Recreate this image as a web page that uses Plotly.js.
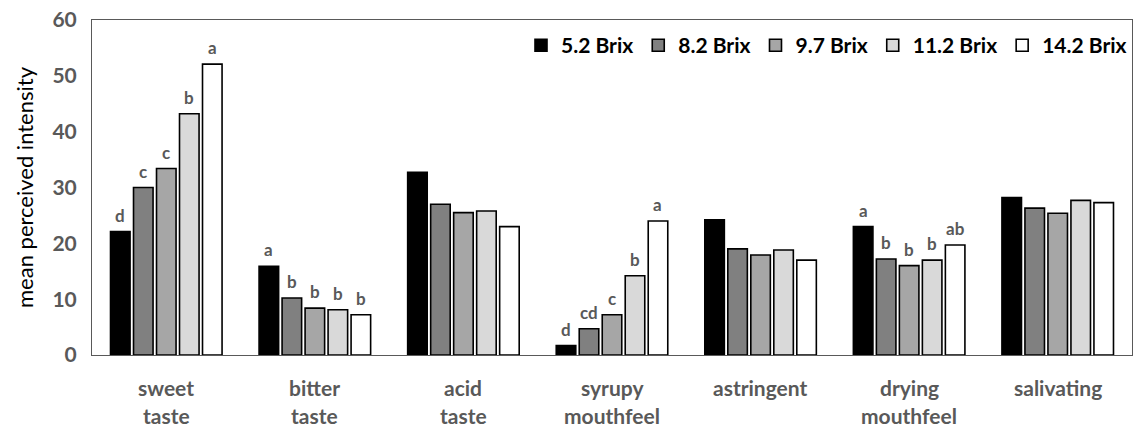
<!DOCTYPE html>
<html><head><meta charset="utf-8">
<script src="https://cdn.plot.ly/plotly-3.0.1.min.js"></script>
<style>html,body{margin:0;padding:0;background:#fff}#chart{width:1137px;height:438px}</style>
</head><body><div id="chart"></div>
<script>
const categories = ["sweet\ntaste","bitter\ntaste","acid\ntaste","syrupy\nmouthfeel","astringent","drying\nmouthfeel","salivating"];
const seriesNames = ["5.2 Brix","8.2 Brix","9.7 Brix","11.2 Brix","14.2 Brix"];
const seriesColors = ["#000000","#808080","#a6a6a6","#d9d9d9","#ffffff"];
const brix52  = [22.1, 15.9, 32.7, 1.7, 24.2, 23.0, 28.2];
const brix82  = [30.0, 10.2, 27.0, 4.7, 19.0, 17.2, 26.3];
const brix97  = [33.4,  8.4, 25.5, 7.2, 17.9, 16.0, 25.4];
const brix112 = [43.2,  8.1, 25.8, 14.2, 18.8, 17.0, 27.7];
const brix142 = [52.1,  7.2, 23.0, 24.0, 17.0, 19.7, 27.3];
const letters52  = ["d","a","","d","","a",""];
const letters82  = ["c","b","","cd","","b",""];
const letters97  = ["c","b","","c","","b",""];
const letters112 = ["b","b","","b","","b",""];
const letters142 = ["a","b","","a","","ab",""];
const yTicks = [0,10,20,30,40,50,60];

const values = [brix52,brix82,brix97,brix112,brix142];
const letters = [letters52,letters82,letters97,letters112,letters142];

const W = 1137, H = 438;
const margin = {l:92, r:5, t:20, b:83};
const bargap = 0.226;
const plotW = W - margin.l - margin.r;
const catW = plotW / categories.length;
const slot = catW * (1 - bargap) / seriesNames.length;

const traces = seriesNames.map((name, i) => ({
  type: 'bar', name: name, x: categories.map((c, k) => k), y: values[i],
  marker: {color: seriesColors[i], line: {color: '#000', width: 1.6}},
  hoverinfo: 'skip'
}));

const annotations = [];
letters.forEach((arr, i) => {
  arr.forEach((t, k) => {
    if (!t) return;
    annotations.push({x: k, y: values[i][k], xref: 'x', yref: 'y', text: t, showarrow: false,
      yanchor: 'bottom', xanchor: 'center', xshift: (i - 2) * slot, yshift: 4,
      font: {family: 'Lato, sans-serif', size: 17, color: '#595959', weight: 'bold'}});
  });
});
categories.forEach((c, k) => {
  c.split('\n').forEach((line, j) => {
    annotations.push({x: k, y: 0, xref: 'x', yref: 'paper', text: line, showarrow: false,
      yanchor: 'middle', xanchor: 'center', yshift: -32 - 28 * j,
      font: {family: 'Lato, sans-serif', size: 21, color: '#595959', weight: 'bold'}});
  });
});

const layout = {
  width: W, height: H, margin: margin,
  paper_bgcolor: '#fff', plot_bgcolor: '#fff',
  barmode: 'group', bargap: bargap, bargroupgap: 0.15,
  showlegend: true,
  legend: {orientation: 'h', x: 1, xanchor: 'right', y: 0.985, yanchor: 'top',
    bgcolor: 'rgba(0,0,0,0)', font: {family: 'Lato, sans-serif', size: 21, color: '#000', weight: 'bold'},
    traceorder: 'normal'},
  xaxis: {type: 'linear', range: [-0.5, categories.length - 0.5], showticklabels: false, ticks: '',
    showgrid: false, zeroline: false, showline: true, mirror: true, linecolor: '#595959', linewidth: 1},
  yaxis: {range: [0, 60], tickvals: yTicks, ticktext: yTicks.map(String), ticks: '', showgrid: false,
    zeroline: false, showline: true, mirror: true, linecolor: '#595959', linewidth: 1,
    ticklabelstandoff: 10,
    tickfont: {family: 'Lato, sans-serif', size: 21, color: '#595959', weight: 'bold'},
    title: {text: 'mean perceived intensity', standoff: 12,
      font: {family: 'Lato, sans-serif', size: 22, color: '#000'}}},
  annotations: annotations
};
Plotly.newPlot('chart', traces, layout, {staticPlot: true, displayModeBar: false});
</script></body></html>
